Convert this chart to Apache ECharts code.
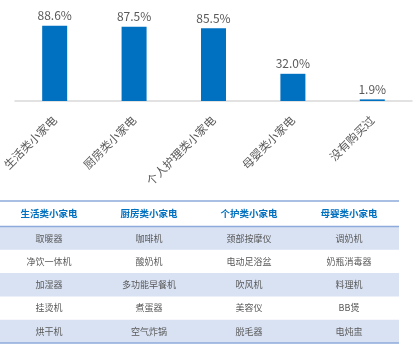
<!DOCTYPE html>
<html><head><meta charset="utf-8">
<script src="https://cdn.jsdelivr.net/npm/echarts@6/dist/echarts.min.js"></script>
<style>html,body{margin:0;padding:0;background:#fff}#c{width:415px;height:363px}</style>
</head><body><div id="c"></div>
<script>
var categories = ['生活类小家电','厨房类小家电','个人护理类小家电','母婴类小家电','没有购买过'];
var values = [88.6, 87.5, 85.5, 32.0, 1.9];
var tableHeaders = ['生活类小家电','厨房类小家电','个护类小家电','母婴类小家电'];
var col1 = ['取暖器','净饮一体机','加湿器','挂烫机','烘干机'];
var col2 = ['咖啡机','酸奶机','多功能早餐机','煮蛋器','空气炸锅'];
var col3 = ['颈部按摩仪','电动足浴盆','吹风机','美容仪','脱毛器'];
var col4 = ['调奶机','奶瓶消毒器','料理机','BB煲','电炖盅'];

var font = '"Noto Sans CJK SC", "Microsoft YaHei", sans-serif';
var chart = echarts.init(document.getElementById('c'));

// table graphics
var cols = [col1, col2, col3, col4];
var tX = 0, tW = 399, colW = 100, tTop = 201, headH = 25.5, rowH = 23.3;
var g = [];
for (var r = 0; r < col1.length; r++) {
  if (r % 2 === 0) {
    g.push({type:'rect', shape:{x:tX, y:tTop+headH+r*rowH, width:tW, height:rowH}, style:{fill:'#D9E2F3'}, silent:true});
  }
}
g.push({type:'line', shape:{x1:tX,y1:tTop,x2:tX+tW,y2:tTop}, style:{stroke:'#8EAADB', lineWidth:1.5}});
g.push({type:'line', shape:{x1:tX,y1:tTop+headH,x2:tX+tW,y2:tTop+headH}, style:{stroke:'#8EAADB', lineWidth:1.5}});
g.push({type:'line', shape:{x1:tX,y1:tTop+headH+5*rowH,x2:tX+tW,y2:tTop+headH+5*rowH}, style:{stroke:'#8EAADB', lineWidth:1.5}});
for (var c = 0; c < tableHeaders.length; c++) {
  var cx = tX + colW*c + colW/2 - 1;
  g.push({type:'text', x:cx, y:tTop+headH/2, style:{text:tableHeaders[c], fill:'#0070C0', font:'bold 9.5px '+font, align:'center', verticalAlign:'middle'}});
  for (var r2 = 0; r2 < cols[c].length; r2++) {
    g.push({type:'text', x:cx, y:tTop+headH+r2*rowH+rowH/2, style:{text:cols[c][r2], fill:'#595959', font:'9px '+font, align:'center', verticalAlign:'middle'}});
  }
}

chart.setOption({
  animation:false,
  grid:{left:12, right:3, top:16, bottom:262},
  xAxis:{type:'category', data:categories,
    axisLine:{lineStyle:{color:'#D9D9D9', width:1.5}}, axisTick:{show:false},
    axisLabel:{rotate:45, margin:17, interval:0, color:'#595959', fontSize:11.5, fontFamily:font}},
  yAxis:{type:'value', min:0, max:100, show:false, splitLine:{show:false}},
  series:[{type:'bar', data:values, barWidth:25, itemStyle:{color:'#0070C0'},
    label:{show:true, position:'top', distance:4, color:'#595959', fontSize:12, fontFamily:font,
      formatter:function(p){return p.value.toFixed(1)+'%';}}}],
  graphic:g
});
</script></body></html>
